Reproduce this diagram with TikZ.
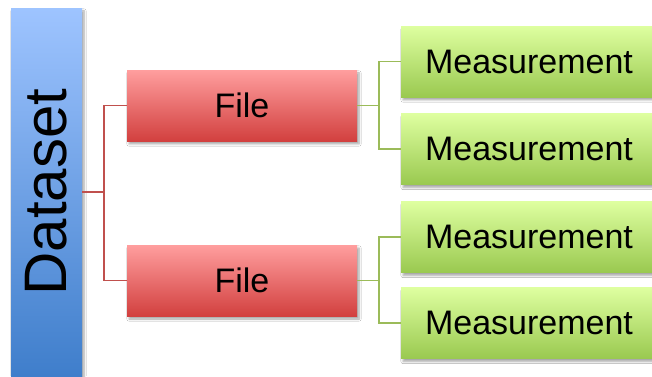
\documentclass[tikz,border=0pt]{standalone}
\usepackage{fontspec}
\setmainfont{Liberation Sans}
\usetikzlibrary{shadows.blur}
\definecolor{blueTop}{HTML}{9EC4FF}
\definecolor{blueBot}{HTML}{3F7ECB}
\definecolor{redTop}{HTML}{FF9E9E}
\definecolor{redBot}{HTML}{D2403F}
\definecolor{greenTop}{HTML}{DEFFA0}
\definecolor{greenBot}{HTML}{9AC950}
\definecolor{redLine}{HTML}{C0504D}
\definecolor{greenLine}{HTML}{9BBB59}
\tikzset{
  box/.style={rectangle, inner sep=0pt, minimum height=71pt,
    blur shadow={shadow xshift=2pt, shadow yshift=-3pt, shadow blur steps=6, shadow opacity=35}},
  datasetbox/.style={box, top color=blueTop, bottom color=blueBot,
    minimum width=71pt, minimum height=368pt, font=\fontsize{60}{66}\selectfont},
  filebox/.style={box, top color=redTop, bottom color=redBot,
    minimum width=230pt, font=\fontsize{34}{40}\selectfont},
  measbox/.style={box, top color=greenTop, bottom color=greenBot,
    minimum width=256pt, font=\fontsize{34}{40}\selectfont},
  redlink/.style={draw=redLine, line width=1.8pt},
  greenlink/.style={draw=greenLine, line width=1.8pt}
}
\begin{document}
\begin{tikzpicture}[x=1pt, y=1pt]
  \useasboundingbox (0,0) rectangle (652,376);
  \fill[white] (0,0) rectangle (652,376);

  % tree nodes
  \node[datasetbox] (ds) at (46.5,184) {\rotatebox{90}{Dataset}};
  \node[filebox] (f1) at (242,270.5) {File};
  \node[filebox] (f2) at (242,95.5) {File};
  \node[measbox] (m1) at (529,314.5) {Measurement};
  \node[measbox] (m2) at (529,227) {Measurement};
  \node[measbox] (m3) at (529,139) {Measurement};
  \node[measbox] (m4) at (529,53) {Measurement};

  % branch points
  \coordinate (rj) at (104,184);
  \coordinate (gj1) at (379,270.5);
  \coordinate (gj2) at (379,95.5);

  % connectors
  \draw[redlink] (ds.east) -- (rj) |- (f1.west);
  \draw[redlink] (rj) |- (f2.west);
  \draw[greenlink] (f1.east) -- (gj1) |- (m1.west);
  \draw[greenlink] (gj1) |- (m2.west);
  \draw[greenlink] (f2.east) -- (gj2) |- (m3.west);
  \draw[greenlink] (gj2) |- (m4.west);
\end{tikzpicture}
\end{document}
